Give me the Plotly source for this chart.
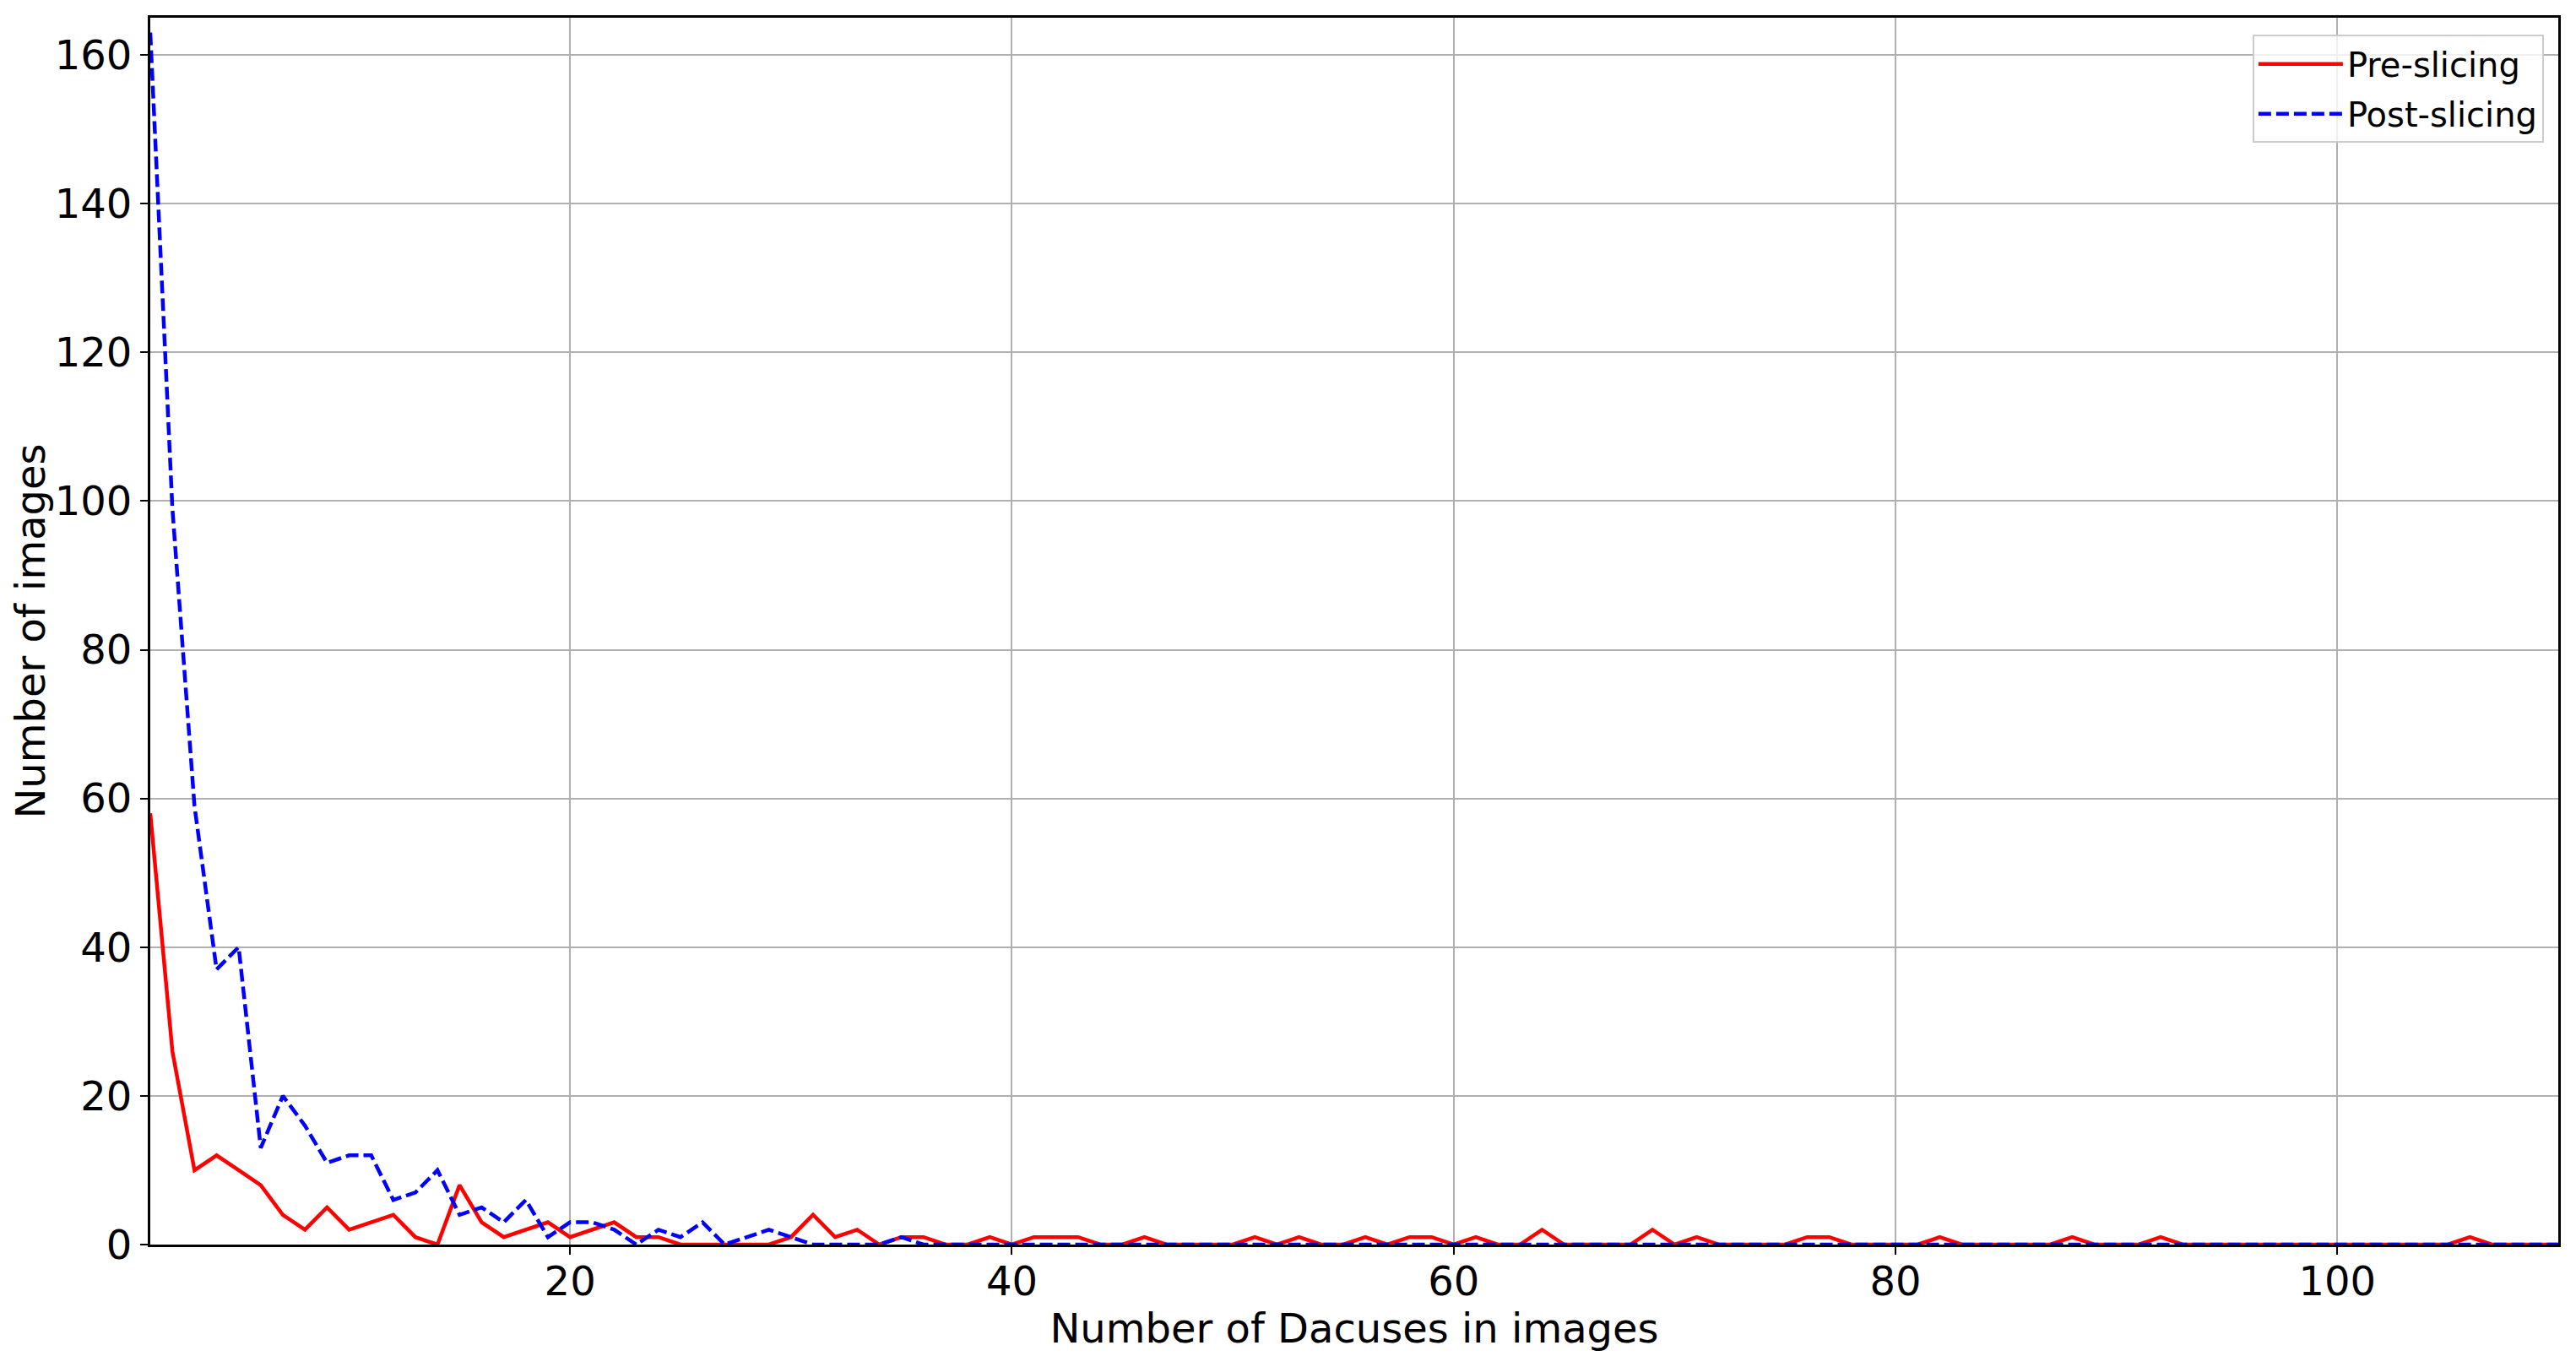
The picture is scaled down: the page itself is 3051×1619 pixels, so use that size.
import plotly.graph_objects as go

# number of Dacuses per image (x) and how many images had that count
dacuses = list(range(1, 111))

pre_slicing = [58, 26, 10, 12, 10, 8, 4, 2, 5, 2,
               3, 4, 1, 0, 8, 3, 1, 2, 3, 1,
               2, 3, 1, 1, 0, 0, 0, 0, 0, 1,
               4, 1, 2, 0, 1, 1, 0, 0, 1, 0,
               1, 1, 1, 0, 0, 1, 0, 0, 0, 0,
               1, 0, 1, 0, 0, 1, 0, 1, 1, 0,
               1, 0, 0, 2, 0, 0, 0, 0, 2, 0,
               1, 0, 0, 0, 0, 1, 1, 0, 0, 0,
               0, 1, 0, 0, 0, 0, 0, 1, 0, 0,
               0, 1, 0, 0, 0, 0, 0, 0, 0, 0,
               0, 0, 0, 0, 0, 1, 0, 0, 0, 0]

post_slicing = [163, 99, 59, 37, 40, 13, 20, 16, 11, 12,
                12, 6, 7, 10, 4, 5, 3, 6, 1, 3,
                3, 2, 0, 2, 1, 3, 0, 1, 2, 1,
                0, 0, 0, 0, 1] + [0] * 75

x_ticks = [20, 40, 60, 80, 100]
y_ticks = [0, 20, 40, 60, 80, 100, 120, 140, 160]

font = "DejaVu Sans"

fig = go.Figure()
fig.add_trace(go.Scatter(x=dacuses, y=pre_slicing, mode="lines", name="Pre-slicing",
                         legendgroup="pre",
                         line=dict(color="#ff0000", width=4.5)))
fig.add_trace(go.Scatter(x=dacuses, y=post_slicing, mode="lines", name="Post-slicing",
                         legendgroup="post",
                         line=dict(color="#0000ff", width=4.5, dash="15px,6px")))

axis_style = dict(showgrid=True, gridcolor="#b0b0b0", gridwidth=2,
                  showline=True, linecolor="black", linewidth=3, mirror=True,
                  ticks="outside", ticklen=9, tickwidth=2, tickcolor="black",
                  zeroline=False, tickfont=dict(family=font, size=48, color="black"))

# the page body has an 8px margin, so the figure is shrunk/offset to match
fig.update_layout(
    width=3035, height=1603,
    margin=dict(l=170, r=11, t=10, b=137),
    paper_bgcolor="white", plot_bgcolor="white",
    font=dict(family=font, color="black"),
    xaxis=dict(range=[1, 110], tickvals=x_ticks, ticklabelstandoff=-10,
               title=dict(text="Number of Dacuses in images", font=dict(family=font, size=48),
                          standoff=8),
               **axis_style),
    yaxis=dict(range=[0, 165], tickvals=y_ticks,
               title=dict(text="Number of images", font=dict(family=font, size=48),
                          standoff=8),
               **axis_style),
    legend=dict(x=0.994, y=0.986, xanchor="right", yanchor="top",
                bgcolor="rgba(255,255,255,0.8)", bordercolor="#cccccc", borderwidth=2,
                font=dict(family=font, size=40, color="black"), itemwidth=100,
                tracegroupgap=4),
    showlegend=True,
)

fig.write_html("out.html")
